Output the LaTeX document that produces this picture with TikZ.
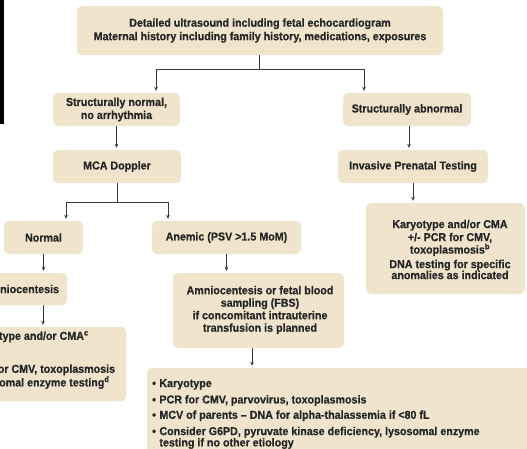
\documentclass[tikz,border=0pt]{standalone}
\usepackage{fontspec}
\setmainfont{Liberation Sans}[FakeStretch=0.93, BoldFeatures={FakeBold=0.6}]
\usetikzlibrary{arrows.meta,calc}
\definecolor{boxfill}{HTML}{F0E4CC}
\definecolor{ink}{HTML}{262626}
\definecolor{wire}{HTML}{3A3A3A}
\tikzset{
  box/.style={fill=boxfill, rounded corners=5pt, inner sep=0pt, text=ink,
    font=\bfseries\fontsize{11.5}{13}\selectfont, align=center},
  lbl/.style={inner sep=0pt, text=ink, font=\bfseries\fontsize{11.5}{13}\selectfont},
  wireline/.style={draw=wire, line width=0.8pt},
  arr/.style={wireline, shorten >=2pt, -{Stealth[length=4pt,width=3.6pt]}},
}
\begin{document}
\begin{tikzpicture}[x=1pt,y=-1pt]
\useasboundingbox (0,0) rectangle (527,448);
\clip (0,0) rectangle (527,448);
\fill[white] (0,0) rectangle (527,448);
\fill[black] (0,0) rectangle (4,124);

% boxes
\node[box, minimum width=366pt, minimum height=49pt] (top) at (260,30.5)
  {Detailed ultrasound including fetal echocardiogram\\[0.5pt]
   Maternal history including family history, medications, exposures};
\node[box, minimum width=127pt, minimum height=33pt] (sn) at (116.5,109.5)
  {Structurally normal,\\no arrhythmia};
\node[box, minimum width=128pt, minimum height=33pt] (sa) at (407,109.5)
  {Structurally abnormal};
\node[box, minimum width=128pt, minimum height=33pt] (mca) at (117,166.5)
  {MCA Doppler};
\node[box, minimum width=150pt, minimum height=33pt] (ipt) at (413,166.5)
  {Invasive Prenatal Testing};
\node[box, minimum width=79pt, minimum height=33pt] (normal) at (43.5,237.5)
  {Normal};
\node[box, minimum width=149pt, minimum height=33pt] (anemic) at (226.5,237.5)
  {Anemic (PSV >1.5 MoM)};
\node[box, minimum width=159pt, minimum height=91pt] (karyr) at (445.5,248.5) {};
\node[lbl, align=center, font=\bfseries\fontsize{11.5}{11.5}\selectfont] (karyrt) at (450,249.5)
  {Karyotype and/or CMA\\[1.5pt]
   +/- PCR for CMV,\\[-0.5pt]
   toxoplasmosis\textsuperscript{b}\\[3pt]
   DNA testing for specific\\[-0.5pt]
   anomalies as indicated};
\node[box, minimum width=92pt, minimum height=32pt] (amnio) at (21,289)
  {Amniocentesis};
\node[box, minimum width=171pt, minimum height=75pt] (afbs) at (258.5,310.5) {};
\node[lbl, align=center, font=\bfseries\fontsize{11.5}{12.5}\selectfont] (afbst) at (260,310)
  {Amniocentesis or fetal blood\\
   sampling (FBS)\\
   if concomitant intrauterine\\
   transfusion is planned};
\node[box, minimum width=192pt, minimum height=74pt] (bl) at (30,364) {};
\node[lbl, align=left, anchor=west, font=\bfseries\fontsize{11.5}{11}\selectfont] (blt) at (-31.5,360)
  {Karyotype and/or CMA\textsuperscript{c}\\
   +/-\\[11pt]
   PCR for CMV, toxoplasmosis\\
   Lysosomal enzyme testing\textsuperscript{d}};
\node[box, minimum width=393pt, minimum height=102pt] (bottom) at (343.5,419) {};
\node[lbl, anchor=north west, font=\bfseries\fontsize{11.5}{10}\selectfont] (bottomt) at (152,379)
  {\begin{tabular}{@{}l@{\hspace{3.5pt}}l@{}}
   \textbullet & Karyotype\\[5pt]
   \textbullet & PCR for CMV, parvovirus, toxoplasmosis\\[4pt]
   \textbullet & MCV of parents -- DNA for alpha-thalassemia if <80 fL\\[5pt]
   \textbullet & Consider G6PD, pyruvate kinase deficiency, lysosomal enzyme\\
               & testing if no other etiology
   \end{tabular}};

% connectors
\coordinate (j1) at (259,69);
\coordinate (j1l) at (156,69);
\coordinate (j1r) at (364,69);
\draw[wireline] (top.south -| j1) -- (j1);
\draw[wireline] (j1l) -- (j1r);
\draw[arr] (j1l) -- (j1l |- sn.north);
\draw[arr] (j1r) -- (j1r |- sa.north);
\draw[arr] (sn.south) -- (sn.south |- mca.north);
\draw[arr] ([xshift=2pt]sa.south) -- ([xshift=2pt]sa.south |- ipt.north);
\coordinate (j2) at (117,202);
\coordinate (j2l) at (66,202);
\coordinate (j2r) at (168,202);
\draw[wireline] (mca.south -| j2) -- (j2);
\draw[wireline] (j2l) -- (j2r);
\draw[arr] (j2l) -- (j2l |- normal.north);
\draw[arr] (j2r) -- (j2r |- anemic.north);
\draw[arr] (ipt.south) -- (ipt.south |- karyr.north);
\draw[arr] (normal.south) -- (normal.south |- amnio.north);
\draw[arr] (anemic.south) -- (anemic.south |- afbs.north);
\draw[arr] ([xshift=22pt]amnio.south) -- ([xshift=22pt]amnio.south |- bl.north);
\draw[arr] ([xshift=-6.5pt]afbs.south) -- ([xshift=-6.5pt]afbs.south |- bottom.north);
\end{tikzpicture}
\end{document}
